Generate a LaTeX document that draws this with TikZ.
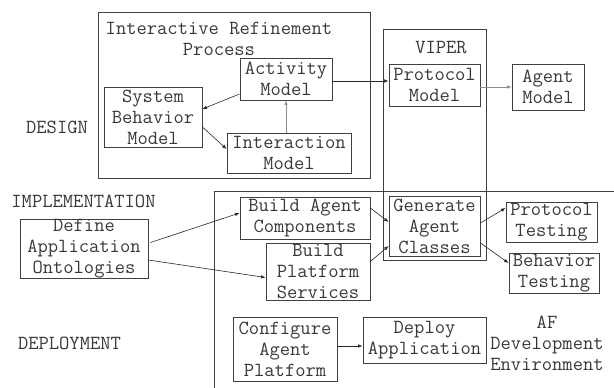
\documentclass[tikz,border=0pt]{standalone}
\usepackage{fontspec}
\usetikzlibrary{calc,arrows.meta}
\begin{document}
\begin{tikzpicture}[x=1pt,y=-1pt,
  font=\ttfamily\fontsize{20}{21}\selectfont,
  text=black!78,
  box/.style={draw=black!75,line width=0.9pt,inner sep=0pt,align=center},
  frame/.style={draw=black!75,line width=0.9pt},
  lbl/.style={inner sep=0pt,align=center},
  arr/.style={draw=black!85,line width=0.6pt,-{Latex[length=4.5pt,width=3.5pt]}},
  garr/.style={arr,draw=black!45}]
\useasboundingbox (0,0) rectangle (614,388);

% enclosing frames
\draw[frame] (98,12) rectangle (370,178);
\draw[frame] (383,29) rectangle (486,260);
\draw[frame] (614,191) -- (214,191) -- (214,388);

% frame titles and phase labels
\node[lbl] (irp) at (219,38.5) {Interactive Refinement\\Process};
\node[lbl] (viper) at (441,48) {VIPER};
\node[lbl] (design) at (57,127) {DESIGN};
\node[lbl] (impl) at (83.5,201) {IMPLEMENTATION};
\node[lbl] (deploylbl) at (69.5,343) {DEPLOYMENT};
\node[lbl] (af) at (547,343) {AF\\Development\\Environment};

% design models
\node[box,minimum width=98pt,minimum height=60pt] (sbm) at (153,117) {System\\Behavior\\Model};
\node[box,minimum width=92pt,minimum height=42pt] (act) at (286,79) {Activity\\Model};
\node[box,minimum width=124pt,minimum height=40pt] (inter) at (289,153) {Interaction\\Model};
\node[box,minimum width=91pt,minimum height=42pt] (proto) at (434.5,85) {Protocol\\Model};
\node[box,minimum width=72pt,minimum height=46pt] (agent) at (548,87) {Agent\\Model};

% implementation steps
\node[box,minimum width=128pt,minimum height=59pt] (define) at (84,248.5) {Define\\Application\\Ontologies};
\node[box,minimum width=130pt,minimum height=42pt] (bac) at (305,218) {Build Agent\\Components};
\node[box,minimum width=104pt,minimum height=57pt] (bps) at (318,271.5) {Build\\Platform\\Services};
\node[box,minimum width=91pt,minimum height=60pt] (gac) at (434.5,226) {Generate\\Agent\\Classes};
\node[box,minimum width=91pt,minimum height=40pt] (pt) at (551.5,222) {Protocol\\Testing};
\node[box,minimum width=90pt,minimum height=40pt] (bt) at (554,273) {Behavior\\Testing};

% deployment steps
\node[box,minimum width=104pt,minimum height=64pt] (conf) at (285,349) {Configure\\Agent\\Platform};
\node[box,minimum width=123pt,minimum height=46pt] (deploy) at (424.5,340) {Deploy\\Application};

% connectors
\draw[arr] ($(act.west)+(0,15)$) -- ($(sbm.east)+(0,-8)$);
\draw[arr] ($(sbm.east)+(0,10)$) -- ($(inter.west)+(0,-4)$);
\draw[garr] (inter.north -| act.south) -- (act.south);
\draw[arr] ($(act.east)+(0,2)$) -- ($(act.east -| proto.west)+(0,2)$);
\draw[garr] ($(proto.east)+(0,2)$) -- ($(proto.east -| agent.west)+(0,2)$);
\draw[arr] ($(define.east)+(2,-6)$) -- ($(bac.west)+(0,-5)$);
\draw[arr] ($(define.east)+(0,11.5)$) -- ($(bps.west)+(0,6)$);
\draw[arr] ($(bac.east)+(0,-10)$) -- ($(gac.west)+(0,-4)$);
\draw[arr] ($(bps.east)+(0,-10)$) -- ($(gac.west)+(0,20)$);
\draw[arr] ($(gac.east)+(0,-3)$) -- ($(pt.west)+(0,-14)$);
\draw[arr] ($(gac.east)+(0,17)$) -- ($(bt.west)+(0,-10)$);
\draw[arr] ($(conf.east)+(0,-3)$) -- ($(conf.east -| deploy.west)+(0,-3)$);
\end{tikzpicture}
\end{document}
